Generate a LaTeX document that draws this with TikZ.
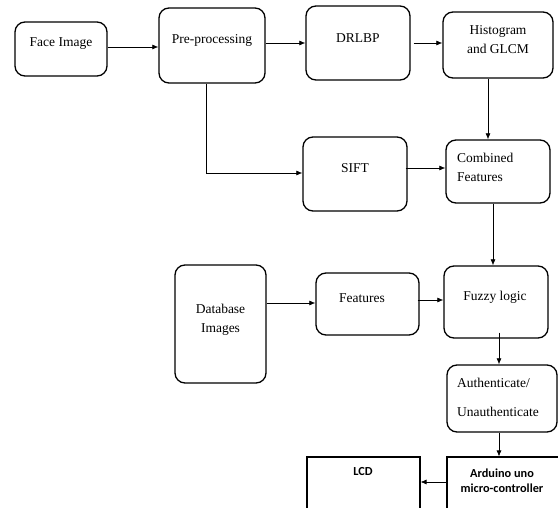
\documentclass[tikz,border=0pt]{standalone}
\usepackage{fontspec}
\setmainfont{Liberation Serif}
\newfontfamily\arduinofont{Carlito}
\usetikzlibrary{arrows.meta}
\begin{document}
\begin{tikzpicture}[x=1pt,y=-1pt,
  box/.style={draw, line width=1.3pt, rounded corners=10pt, inner sep=0pt},
  sqbox/.style={draw, line width=1.1pt, inner sep=0pt},
  txt/.style={inner sep=0pt, align=center, font=\fontsize{13.5}{19}\selectfont},
  btxt/.style={inner sep=0pt, align=center, font=\arduinofont\bfseries\fontsize{12.3}{15}\selectfont},
  arr/.style={line width=0.7pt, -{Latex[length=6pt,width=5pt]}},
  ln/.style={line width=0.7pt}]
\useasboundingbox (0,0) rectangle (558,508);
\clip (0,0) rectangle (558,508);
% boxes
\node[box, minimum width=92pt, minimum height=54pt] (face) at (61,49) {};
\node[box, minimum width=106pt, minimum height=75pt] (pre) at (212,45.5) {};
\node[box, minimum width=104pt, minimum height=74pt] (drlbp) at (358,43) {};
\node[box, minimum width=110pt, minimum height=66pt] (hist) at (498,45) {};
\node[box, minimum width=104pt, minimum height=74pt] (sift) at (355,174) {};
\node[box, minimum width=104pt, minimum height=63pt] (comb) at (498,171.5) {};
\node[box, minimum width=91pt, minimum height=118pt] (db) at (220.5,324) {};
\node[box, minimum width=103pt, minimum height=62pt] (feat) at (367.5,304) {};
\node[box, minimum width=104pt, minimum height=72pt] (fuzzy) at (496,302) {};
\node[box, minimum width=110pt, minimum height=67pt] (auth) at (502,398.5) {};
\node[sqbox, minimum width=113pt, minimum height=63pt] (ard) at (503.5,488.5) {};
\node[sqbox, minimum width=113pt, minimum height=63pt] (lcd) at (363.5,488.5) {};
% texts
\node[txt] (faceT) at (61,44) {Face Image};
\node[txt] (preT) at (212,40) {Pre-processing};
\node[txt] (drlbpT) at (358,38) {DRLBP};
\node[txt] (histT) at (498,39.5) {Histogram\\and GLCM};
\node[txt] (siftT) at (355,168) {SIFT};
\node[txt, align=left, anchor=west] (combT) at (457,167.5) {Combined\\Features};
\node[txt] (dbT) at (220.5,319.5) {Database\\Images};
\node[txt] (featT) at (362,298) {Features};
\node[txt] (fuzzyT) at (495,297) {Fuzzy logic};
\node[txt, align=left, anchor=west, font=\fontsize{13.5}{29}\selectfont] (authT) at (457,397.5) {Authenticate/\\Unauthenticate};
\node[btxt] (ardT) at (502,480.5) {Arduino uno\\micro-controller};
\node[btxt] (lcdT) at (363,472) {LCD};
% connectors
\draw[arr] (face.east |- 0,47) -- (pre.west |- 0,47);
\draw[arr] (pre.east |- 0,43) -- (drlbp.west |- 0,43);
\draw[arr] ([xshift=3pt]drlbp.east |- 0,43) -- (hist.west |- 0,43);
\draw[arr] (hist.south -| 488,0) -- (comb.north -| 488,0);
\coordinate (bend) at (206,173);
\draw[arr] (pre.south -| bend) -- (bend) -- (sift.west |- bend);
\draw[arr] ([xshift=-2pt]sift.east |- 0,168) -- (comb.west |- 0,168);
\draw[arr] (comb.south -| 493,0) -- (fuzzy.north -| 493,0);
\draw[arr] (db.east |- 0,303) -- (feat.west |- 0,303);
\draw[arr] ([xshift=-2pt]feat.east |- 0,300) -- (fuzzy.west |- 0,300);
\draw[arr] ([yshift=6pt]fuzzy.south -| 499,0) -- (auth.north -| 499,0);
\draw[arr] (auth.south -| 499,0) -- (ard.north -| 499,0);
\draw[arr] (ard.west |- 0,482) -- (lcd.east |- 0,482);
\end{tikzpicture}
\end{document}
